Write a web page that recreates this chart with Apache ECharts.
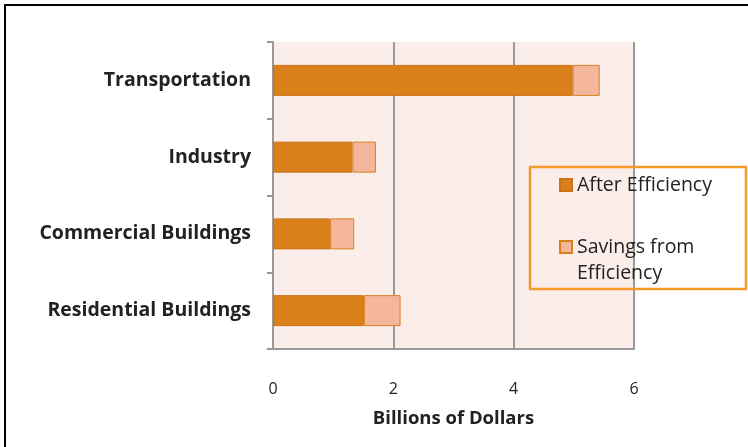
<!DOCTYPE html>
<html>
<head>
<meta charset="utf-8">
<script src="https://cdn.jsdelivr.net/npm/echarts@6/dist/echarts.min.js"></script>
<style>
html,body{margin:0;padding:0;background:#fff;}
#chart{width:748px;height:447px;}
</style>
</head>
<body>
<div id="chart"></div>
<script>
var categories = ['Residential Buildings', 'Commercial Buildings', 'Industry', 'Transportation'];
var afterEfficiency = [1.51, 0.95, 1.32, 4.98];
var savingsFromEfficiency = [0.61, 0.40, 0.39, 0.45];
var xTicks = [0, 2, 4, 6];

var FONT = '"Open Sans", sans-serif';
var chart = echarts.init(document.getElementById('chart'));
chart.setOption({
  animation: false,
  backgroundColor: '#ffffff',
  grid: { left: 273, right: 114, top: 42, bottom: 98, show: true, backgroundColor: '#FBEDEA', borderWidth: 0 },
  xAxis: {
    type: 'value', min: xTicks[0], max: xTicks[xTicks.length - 1], interval: 2,
    name: 'Billions of Dollars', nameLocation: 'middle', nameGap: 60,
    nameTextStyle: { fontFamily: FONT, fontSize: 18.5, fontWeight: 'bold', color: '#222' },
    axisLine: { show: true, lineStyle: { color: '#999', width: 2 } },
    axisTick: { show: false },
    axisLabel: { fontFamily: FONT, fontSize: 16, color: '#222', margin: 32 },
    splitLine: { show: true, lineStyle: { color: '#999', width: 2 } }
  },
  yAxis: {
    type: 'category', data: categories,
    axisLine: { show: true, lineStyle: { color: '#999', width: 2 } },
    axisTick: { show: true, length: 6, inside: false, lineStyle: { color: '#999', width: 2 } },
    axisLabel: { fontFamily: FONT, fontSize: 19.5, fontWeight: 'bold', color: '#222', margin: 22, padding: [6, 0, 0, 0] },
    splitLine: { show: false }
  },
  legend: [
    {
      orient: 'vertical', left: 559, top: 172, padding: 0, icon: 'rect', itemWidth: 12, itemHeight: 12, itemGap: 10,
      textStyle: { fontFamily: FONT, fontSize: 19.5, color: '#222', lineHeight: 26 },
      data: ['After Efficiency']
    },
    {
      orient: 'vertical', left: 559, top: 208, padding: 0, icon: 'rect', itemWidth: 12, itemHeight: 12,
      textStyle: { fontFamily: FONT, fontSize: 19.5, color: '#222', lineHeight: 26 },
      formatter: function () { return ' \nSavings from\nEfficiency'; },
      data: ['Savings from Efficiency']
    }
  ],
  graphic: [
    { type: 'rect', shape: { x: 530, y: 167, width: 216, height: 122 }, style: { fill: 'none', stroke: '#F39A2B', lineWidth: 2.5 }, z: 10 },
    { type: 'rect', shape: { x: 5, y: 5, width: 800, height: 500 }, style: { fill: 'none', stroke: '#000', lineWidth: 2 }, z: 10 }
  ],
  series: [
    {
      name: 'After Efficiency', type: 'bar', stack: 'total', barWidth: 31,
      data: afterEfficiency,
      itemStyle: { color: '#D9801B', borderColor: '#C9731A', borderWidth: 1 }
    },
    {
      name: 'Savings from Efficiency', type: 'bar', stack: 'total', barWidth: 31,
      data: savingsFromEfficiency,
      itemStyle: { color: '#F5B79B', borderColor: '#D9801B', borderWidth: 1 }
    }
  ]
});
</script>
</body>
</html>
